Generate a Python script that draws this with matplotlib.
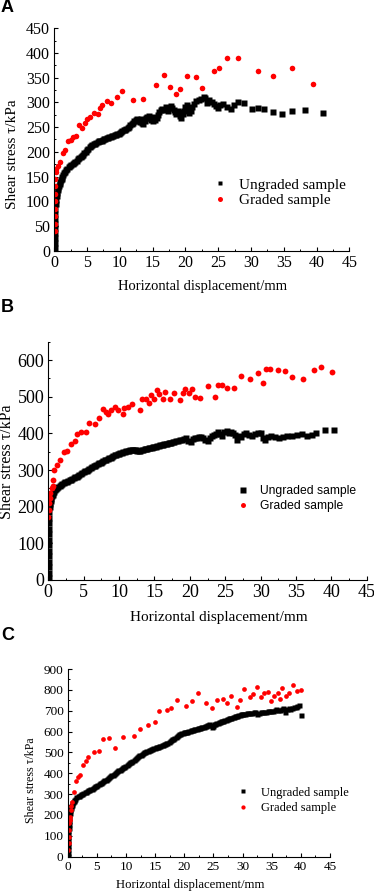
import matplotlib
matplotlib.use("Agg")
import matplotlib.pyplot as plt
from matplotlib.ticker import MultipleLocator

plt.rcParams['font.family'] = ['Liberation Serif', 'DejaVu Serif']

# ---------------- Panel A data ----------------
a_ung_x = [0.05, 0.05, 0.06, 0.07, 0.08, 0.1, 0.12, 0.15, 0.18, 0.22, 0.28, 0.35, 0.42, 0.5, 0.6, 0.7, 0.8, 0.9,
           1.0, 1.1, 1.25, 1.4, 1.55, 1.7, 1.85, 2.0, 2.2, 2.4, 2.6, 2.8, 3.0, 3.2, 3.4, 3.6, 3.8, 4.0, 4.2, 4.4,
           4.6, 4.8, 5.0, 5.2, 5.4, 5.6, 5.8, 6.0, 6.2, 6.4, 6.6, 6.8, 7.0, 7.2, 7.4, 7.6, 7.8, 8.0, 8.2, 8.4,
           8.6, 8.8, 9.0, 9.2, 9.4, 9.6, 9.8, 10.0, 10.2, 10.4, 10.6, 10.8, 11.0, 11.2, 11.4, 11.6, 11.8, 12.0,
           12.2, 12.4, 12.6, 12.8, 13.0, 13.2, 13.4, 13.6, 13.8, 14.0, 14.2, 14.4, 14.6, 14.8, 15.0, 15.2, 15.4,
           15.6, 15.8, 16.0, 16.2, 16.5, 16.8, 17.0, 17.2, 17.4, 17.6, 17.8, 18.0, 18.2, 18.4, 18.6, 18.8, 19.0,
           19.2, 19.4, 19.6, 19.8, 20.0, 20.2, 20.4, 20.6, 20.8, 21.0, 21.3, 21.6, 22.0, 22.4, 22.8, 23.0, 23.3,
           23.6, 24.0, 24.3, 24.6, 25.0, 25.3, 25.8, 26.4, 27.0, 27.4, 28.0, 29.0, 30.1, 31.0, 32.0, 33.4, 34.8,
           36.3, 38.3, 41.0]
a_ung_y = [5, 15, 25, 35, 45, 55, 65, 75, 85, 95, 103, 110, 117, 122, 127, 131, 135, 139,
           143, 146, 150, 154, 157, 160, 163, 166, 169, 171, 174, 176, 178, 180, 182, 185, 188, 190, 192, 194,
           197, 200, 203, 206, 209, 211, 213, 215, 216, 218, 220, 221, 222, 222, 223, 225, 226, 228, 229, 230,
           231, 232, 233, 234, 235, 236, 237, 239, 240, 242, 244, 245, 247, 249, 251, 254, 257, 259,
           262, 264, 266, 263, 260, 266, 258, 256, 262, 268, 270, 272, 268, 264, 262, 270, 265,
           268, 274, 280, 285, 287, 284, 290, 286, 282, 289, 292, 288, 285, 280, 276, 283, 280,
           272, 268, 276, 282, 290, 294, 286, 278, 282, 290, 296, 302, 304, 306, 312, 308, 298,
           304, 300, 296, 292, 288, 294, 297, 290, 286, 294, 301, 298, 286, 288, 287, 281, 276,
           283, 285, 279]
a_gra_x = [0.05, 0.05, 0.06, 0.08, 0.1, 0.1, 0.12, 0.15, 0.2, 0.3, 0.6, 0.9, 1.4, 1.6, 2.1, 2.5, 2.8, 3.3, 3.8,
           4.3, 4.7, 5.0, 5.4, 6.1, 6.6, 6.9, 7.2, 8.0, 8.7, 9.5, 10.3, 12.0, 13.5, 15.5, 16.7, 17.7, 18.5,
           19.2, 20.2, 21.6, 22.6, 24.3, 25.1, 26.4, 28.0, 31.0, 33.3, 36.3, 39.5]
a_gra_y = [40, 55, 70, 85, 100, 115, 130, 145, 160, 165, 172, 180, 197, 204, 221, 224, 231, 232, 255,
           249, 258, 267, 270, 279, 276, 288, 295, 303, 299, 310, 323, 305, 306, 335, 356, 331, 317,
           327, 354, 351, 330, 364, 370, 389, 389, 364, 354, 369, 337]

# ---------------- Panel B data ----------------
b_ung_x = [0.05, 0.05, 0.05, 0.06, 0.06, 0.07, 0.08, 0.08, 0.09, 0.1, 0.11, 0.13, 0.16, 0.2, 0.25, 0.32, 0.4,
           0.5, 0.6, 0.7, 0.8, 0.95, 1.1, 1.25, 1.4, 1.6, 1.8, 2.0, 2.2, 2.4, 2.6, 2.8, 3.0, 3.2, 3.4, 3.6, 3.8,
           4.0, 4.2, 4.4, 4.6, 4.8, 5.0, 5.2, 5.4, 5.6, 5.8, 6.0, 6.2, 6.4, 6.6, 6.8, 7.0, 7.2, 7.4, 7.6, 7.8,
           8.0, 8.2, 8.4, 8.6, 8.8, 9.0, 9.2, 9.4, 9.6, 9.8, 10.0, 10.2, 10.4, 10.6, 10.8, 11.0, 11.2, 11.4,
           11.6, 11.8, 12.0, 12.2, 12.4, 12.6, 12.8, 13.0, 13.2, 13.4, 13.6, 13.8, 14.0, 14.2, 14.4, 14.6,
           14.8, 15.0, 15.2, 15.4, 15.6, 15.8, 16.0, 16.2, 16.4, 16.6, 16.8, 17.0, 17.2, 17.4, 17.6, 17.8,
           18.0, 18.3, 18.6, 18.9, 19.2, 19.5, 19.8, 20.1, 20.4, 20.7, 21.0, 21.3, 21.6, 21.9, 22.2, 22.5,
           22.8, 23.1, 23.4, 23.7, 24.0, 24.3, 24.6, 24.9, 25.2, 25.5, 25.8, 26.1, 26.4, 26.7, 27.0, 27.3,
           27.6, 28.0, 28.4, 28.8, 29.2, 29.6, 30.0, 30.3, 30.6, 31.0, 31.5, 32.0, 32.6, 33.2, 33.8, 34.5,
           35.2, 35.8, 36.5, 37.2, 37.9, 39.1, 40.4]
b_ung_y = [5, 20, 35, 50, 65, 80, 95, 110, 125, 140, 155, 170, 185, 198, 208, 216, 222,
           228, 233, 237, 241, 245, 248, 251, 254, 257, 259, 262, 264, 266, 268, 270, 272, 274, 276, 278, 280,
           282, 284, 287, 289, 291, 294, 296, 298, 300, 303, 306, 308, 310, 312, 314, 316, 318, 320, 322, 324,
           326, 328, 330, 332, 334, 336, 338, 340, 342, 343, 345, 346, 347, 348, 350, 351, 352, 353,
           354, 354, 355, 355, 354, 352, 351, 352, 354, 355, 356, 357, 358, 359, 360, 361,
           362, 363, 364, 365, 366, 367, 368, 369, 370, 371, 372, 373, 374, 375, 376, 377,
           378, 379, 381, 383, 385, 386, 380, 377, 384, 386, 388, 391, 389, 386, 383, 378,
           388, 392, 396, 399, 404, 398, 394, 403, 407, 402, 404, 400, 396, 383, 394, 390,
           397, 400, 396, 393, 399, 402, 401, 386, 383, 389, 394, 390, 386, 391, 394, 393,
           395, 398, 394, 396, 400, 409, 409]
b_gra_x = [0.0, 0.05, 0.1, 0.2, 0.3, 0.5, 0.7, 0.6, 0.75, 1.2, 1.6, 2.2, 2.7, 3.2, 3.8, 4.1, 4.6, 5.3, 5.7, 6.6,
           7.2, 7.7, 8.2, 8.5, 8.9, 9.4, 9.9, 10.5, 10.7, 11.3, 11.8, 12.9, 13.2, 13.8, 14.2, 14.5, 15.0, 15.3,
           15.7, 16.2, 16.5, 17.2, 17.8, 18.6, 19.0, 19.3, 19.9, 20.3, 20.7, 21.4, 22.6, 23.6, 24.0, 24.5,
           25.2, 26.2, 27.3, 28.5, 29.7, 30.4, 30.8, 31.3, 32.4, 33.4, 34.4, 36.0, 37.5, 38.6, 40.1]
b_gra_y = [173, 191, 209, 223, 236, 250, 256, 273, 300, 314, 327, 350, 353, 371, 380, 398, 405, 404, 429, 425,
           441, 466, 459, 453, 465, 473, 464, 453, 469, 471, 480, 465, 493, 495, 484, 505, 495, 518,
           507, 494, 514, 495, 509, 491, 511, 520, 509, 521, 500, 497, 529, 498, 532, 531,
           524, 524, 556, 547, 565, 538, 575, 576, 573, 570, 553, 549, 573, 582, 566]

# ---------------- Panel C data ----------------
c_ung_x = [0.05, 0.05, 0.06, 0.07, 0.08, 0.09, 0.1, 0.11, 0.12, 0.14, 0.16, 0.19, 0.22, 0.26, 0.32, 0.4, 0.5,
           0.6, 0.7, 0.8, 0.9, 1.0, 1.15, 1.3, 1.5, 1.7, 1.9, 2.1, 2.3, 2.5, 2.7, 2.9, 3.1, 3.3, 3.5, 3.7, 3.9,
           4.1, 4.3, 4.5, 4.7, 4.9, 5.1, 5.3, 5.5, 5.7, 5.9, 6.1, 6.3, 6.5, 6.7, 6.9, 7.1, 7.3, 7.5, 7.7, 7.9,
           8.1, 8.3, 8.5, 8.7, 8.9, 9.1, 9.3, 9.5, 9.7, 9.9, 10.1, 10.3, 10.5, 10.7, 10.9, 11.1, 11.3, 11.5,
           11.7, 11.9, 12.1, 12.3, 12.5, 12.7, 12.9, 13.1, 13.3, 13.5, 13.7, 13.9, 14.1, 14.3, 14.5, 14.7,
           14.9, 15.1, 15.3, 15.5, 15.7, 15.9, 16.1, 16.3, 16.5, 16.7, 16.9, 17.1, 17.3, 17.5, 17.7, 17.9,
           18.1, 18.3, 18.5, 18.7, 18.9, 19.1, 19.3, 19.5, 19.7, 19.9, 20.1, 20.3, 20.5, 20.7, 20.9, 21.1,
           21.3, 21.5, 21.7, 21.9, 22.1, 22.3, 22.5, 22.7, 22.9, 23.1, 23.3, 23.5, 23.7, 23.9, 24.1, 24.3,
           24.5, 24.7, 24.9, 25.1, 25.3, 25.5, 25.7, 25.9, 26.1, 26.3, 26.5, 26.7, 26.9, 27.1, 27.3, 27.5,
           27.7, 27.9, 28.1, 28.3, 28.5, 28.7, 28.9, 29.1, 29.3, 29.5, 29.7, 29.9, 30.1, 30.4, 30.7, 31.0,
           31.3, 31.6, 31.9, 32.2, 32.5, 32.8, 33.1, 33.4, 33.7, 34.0, 34.3, 34.6, 34.9, 35.2, 35.5, 35.8,
           36.1, 36.4, 36.7, 37.0, 37.3, 37.6, 37.9, 38.2, 38.5, 38.8, 39.1, 39.4, 39.7, 40.0]
c_ung_y = [5, 20, 35, 50, 65, 80, 95, 110, 125, 140, 155, 170, 185, 198, 210, 222, 233,
           242, 250, 257, 263, 268, 274, 279, 284, 289, 293, 297, 300, 303, 306, 309, 312, 315, 318, 321, 324,
           327, 330, 334, 338, 341, 345, 348, 352, 355, 359, 362, 366, 370, 374, 378, 382, 386, 390, 394, 398,
           402, 406, 410, 414, 418, 422, 425, 428, 432, 436, 440, 444, 448, 452, 456, 461, 466, 470,
           474, 478, 482, 486, 490, 494, 497, 500, 503, 506, 509, 512, 514, 516, 518, 520,
           522, 524, 526, 528, 530, 532, 534, 536, 538, 540, 543, 546, 550, 554, 558, 562,
           566, 570, 574, 578, 582, 586, 589, 592, 594, 596, 597, 598, 600, 602, 604, 606,
           607, 609, 611, 612, 614, 616, 617, 619, 621, 622, 624, 626, 628, 630, 632, 634,
           630, 620, 628, 634, 638, 641, 643, 645, 647, 649, 651, 653, 655, 657, 659, 661,
           663, 665, 667, 669, 671, 673, 675, 677, 679, 681, 683, 684, 685, 686, 687, 688,
           689, 690, 692, 693, 682, 688, 692, 694, 695, 696, 697, 698, 699, 700, 702, 706,
           704, 702, 708, 712, 696, 710, 714, 706, 712, 718, 716, 722, 728, 680]
c_gra_x = [0.1, 0.15, 0.2, 0.25, 0.3, 0.35, 0.4, 0.5, 0.6, 0.8, 1.1, 1.4, 1.8, 2.1, 2.6, 3.1, 3.5, 4.5, 5.3, 6.1,
           7.1, 8.1, 9.5, 11.3, 12.4, 13.8, 15.0, 15.7, 17.0, 17.8, 18.8, 20.3, 21.3, 22.4, 23.7, 24.8, 25.6,
           26.6, 27.3, 28.0, 29.0, 29.6, 30.2, 31.2, 31.8, 32.4, 33.1, 33.6, 34.3, 34.8, 35.4, 36.0, 36.4,
           36.7, 37.4, 37.9, 38.7, 39.3, 40.0]
c_gra_y = [32, 64, 96, 128, 160, 176, 192, 224, 243, 264, 312, 364, 384, 392, 441, 460, 480, 502, 508, 563,
           567, 519, 575, 580, 611, 631, 647, 698, 703, 711, 751, 724, 746, 783, 738, 711, 751,
           754, 738, 770, 716, 751, 806, 767, 780, 815, 764, 786, 788, 746, 770, 783, 758,
           810, 770, 783, 823, 796, 799]

legend_labels = ["Ungraded sample", "Graded sample"]
xlabel = "Horizontal displacement/mm"
ylabel = "Shear stress \u03c4/kPa"

W, H = 374, 893
fig = plt.figure(figsize=(W / 100, H / 100), dpi=100)


def px_axes(left, top, right, bottom):
    return fig.add_axes([left / W, 1 - bottom / H, (right - left) / W, (bottom - top) / H])


def style(ax, xmax, ymax, ymaj, yminr, fs):
    ax.set_xlim(0, xmax)
    ax.set_ylim(0, ymax)
    ax.xaxis.set_major_locator(MultipleLocator(5))
    ax.xaxis.set_minor_locator(MultipleLocator(2.5))
    ax.yaxis.set_major_locator(MultipleLocator(ymaj))
    ax.yaxis.set_minor_locator(MultipleLocator(yminr))
    for s in ['top', 'right']:
        ax.spines[s].set_visible(False)
    for s in ['left', 'bottom']:
        ax.spines[s].set_linewidth(0.8)
    ax.tick_params(which='major', direction='in', length=3, width=0.8, labelsize=fs, pad=3)
    ax.tick_params(which='minor', direction='in', length=1.6, width=0.7)
    ax.patch.set_alpha(0)


# Panel A
axA = px_axes(54.3, 28.3, 349.3, 250.7)
axA.plot(a_ung_x, a_ung_y, ls='none', marker='s', ms=3.9, color='black', mec='none', label=legend_labels[0])
axA.plot(a_gra_x, a_gra_y, ls='none', marker='o', ms=4.0, color='#ff0000', mec='none', label=legend_labels[1])
style(axA, 45, 450, 50, 25, 11.5)
axA.set_yticks(range(0, 451, 50))
axA.legend(loc='center left', bbox_to_anchor=(0.509, 0.262), frameon=False, borderpad=0, handlelength=1.0,
           handletextpad=0.75, labelspacing=0.12, prop={'family': ['Liberation Serif'], 'size': 11}, markerscale=0.9)
fig.text(203 / W, 1 - 286 / H, xlabel, ha='center', va='center', fontsize=10.5)
fig.text(13 / W, 1 - 154 / H, ylabel, ha='center', va='center', rotation=90, fontsize=11)

# Panel B
axB = px_axes(48.3, 341.7, 366.7, 580)
axB.plot(b_ung_x, b_ung_y, ls='none', marker='s', ms=4.3, color='black', mec='none', label=legend_labels[0])
axB.plot(b_gra_x, b_gra_y, ls='none', marker='o', ms=4.2, color='#ff0000', mec='none', label=legend_labels[1])
style(axB, 45, 650, 100, 50, 13)
axB.set_yticks(range(0, 601, 100))
axB.legend(loc='center left', bbox_to_anchor=(0.574, 0.340), frameon=False, borderpad=0, handlelength=1.0,
           handletextpad=0.9, labelspacing=0.25, prop={'family': ['Liberation Sans'], 'size': 8.7}, markerscale=0.85)
fig.text(219 / W, 1 - 618 / H, xlabel, ha='center', va='center', fontsize=11)
fig.text(7 / W, 1 - 462 / H, ylabel, ha='center', va='center', rotation=90, fontsize=11.5)

# Panel C
axC = px_axes(67.7, 669, 330, 856.7)
axC.plot(c_ung_x, c_ung_y, ls='none', marker='s', ms=3.6, color='black', mec='none', label=legend_labels[0])
axC.plot(c_gra_x, c_gra_y, ls='none', marker='o', ms=3.4, color='#ff0000', mec='none', label=legend_labels[1])
style(axC, 45, 900, 100, 50, 9.5)
axC.legend(loc='center left', bbox_to_anchor=(0.621, 0.300), frameon=False, borderpad=0, handlelength=1.0,
           handletextpad=0.94, labelspacing=0.25, prop={'family': ['Liberation Serif'], 'size': 9}, markerscale=0.9)
fig.text(190 / W, 1 - 885 / H, xlabel, ha='center', va='center', fontsize=9.2)
fig.text(30.7 / W, 1 - 780 / H, ylabel, ha='center', va='center', rotation=90, fontsize=8.6)

# Panel letters
for lab, y in [("A", 8), ("B", 307), ("C", 636)]:
    fig.text(1 / W, 1 - y / H, lab, ha='left', va='center', fontsize=13, fontweight='bold',
             family=['Liberation Sans', 'DejaVu Sans'])

fig.savefig("out.png", dpi=100)
